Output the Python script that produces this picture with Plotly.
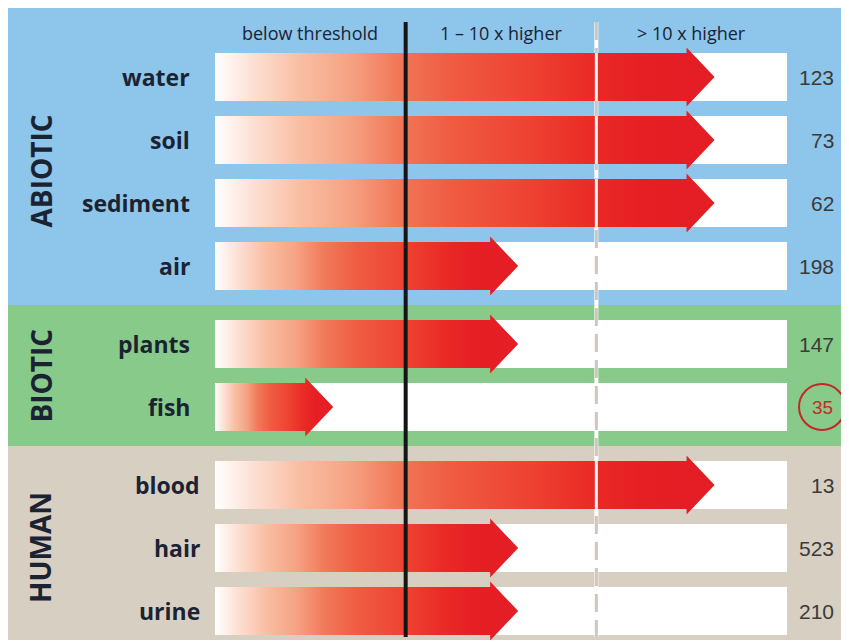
import plotly.graph_objects as go

# ---------------- data ----------------
groups = ["ABIOTIC", "BIOTIC", "HUMAN"]
rows = ["water", "soil", "sediment", "air", "plants", "fish", "blood", "hair", "urine"]
row_group = ["ABIOTIC", "ABIOTIC", "ABIOTIC", "ABIOTIC", "BIOTIC", "BIOTIC", "HUMAN", "HUMAN", "HUMAN"]
# arrow tip on the exceedance scale: 0 = none, 1 = threshold, 2 = 10x threshold, 3 = end of scale
exceedance = [2.62, 2.62, 2.62, 1.59, 1.59, 0.62, 2.62, 1.59, 1.59]
counts = [123, 73, 62, 198, 147, 35, 13, 523, 210]
highlighted = ["fish"]
section_labels = ["below threshold", "1 – 10 x higher", "> 10 x higher"]

# ---------------- layout / style ----------------
W, H = 849, 642                    # page size
PAGE_OFF = 8                       # default html body margin
PX_X0, PX_SEC = 215.0, 190.67      # page pixel of scale 0, pixels per section
PX_Y0, PX_ROW = 77.0, 63.0         # page pixel of first row centre, pixels per row
GROUP_GAP = 15.0 / PX_ROW
HALF_BAR = 24.0 / PX_ROW
HALF_HEAD = 29.5 / PX_ROW
HEAD_LEN = 28.0 / PX_SEC

band_colors = {"ABIOTIC": "#8ec5ea", "BIOTIC": "#88ca89", "HUMAN": "#d8cfc3"}
label_shift = {"ABIOTIC": 0, "BIOTIC": 0, "HUMAN": 10}
TEXT = "#1b2333"
FONT = "Open Sans"

arrow_scale = [
    [0.0, "#ffffff"], [0.07, "#fde2d7"], [0.17, "#f9bea2"], [0.27, "#f5a283"],
    [0.36, "#f17a5a"], [0.47, "#ef5c42"], [0.63, "#ee4232"], [0.75, "#ea2b26"],
    [0.85, "#e61f24"], [1.0, "#e31e24"],
]

def px_to_x(px):
    return (px - PX_X0) / PX_SEC

def px_to_y(py):
    return (py - PX_Y0) / PX_ROW

pos = [i + groups.index(g) * GROUP_GAP for i, g in enumerate(row_group)]

fig = go.Figure()
shapes = []
annotations = []

# background bands per group
for gi, g in enumerate(groups):
    gpos = [p for p, rg in zip(pos, row_group) if rg == g]
    top = gpos[0] - (72.0 / PX_ROW if gi == 0 else 0.5 + GROUP_GAP / 2)
    bottom = gpos[-1] + (29.0 / PX_ROW if gi == len(groups) - 1 else 0.5 + GROUP_GAP / 2)
    shapes.append(dict(type="rect", layer="below", xref="x", yref="y",
                       x0=px_to_x(7), x1=px_to_x(W + 5), y0=top, y1=bottom,
                       fillcolor=band_colors[g], line_width=0))
    annotations.append(dict(x=px_to_x(40), y=(gpos[0] + gpos[-1]) / 2, text=g,
                            textangle=-90, showarrow=False, xanchor="center", yanchor="middle",
                            font=dict(family=FONT, size=28, color=TEXT, weight="bold")))

# white bars
for p in pos:
    shapes.append(dict(type="rect", layer="below", x0=0, x1=3, y0=p - HALF_BAR, y1=p + HALF_BAR,
                       fillcolor="#ffffff", line_width=0))

y_top = px_to_y(22)
y_bot = pos[-1] + HALF_BAR + 2.0 / PX_ROW
# 10x line (white with grey dashes)
shapes.append(dict(type="line", layer="below", x0=2, x1=2, y0=y_top, y1=y_bot,
                   line=dict(color="#ffffff", width=4)))
shapes.append(dict(type="line", layer="below", x0=2, x1=2, y0=y_top, y1=y_bot,
                   line=dict(color="#cfc6bd", width=3, dash="18px,8px")))

# arrows
for r, p, v in zip(rows, pos, exceedance):
    b = v - HEAD_LEN
    xs = [0, b, b, v, b, b, 0, 0]
    ys = [p - HALF_BAR, p - HALF_BAR, p - HALF_HEAD, p, p + HALF_HEAD, p + HALF_BAR, p + HALF_BAR, p - HALF_BAR]
    fig.add_trace(go.Scatter(
        x=xs, y=ys, mode="lines", fill="toself",
        line=dict(width=0, color="rgba(0,0,0,0)"),
        fillgradient=dict(type="horizontal", colorscale=arrow_scale),
        hoverinfo="skip", showlegend=False, name=r))
    if v > 2:
        shapes.append(dict(type="line", layer="above", x0=2, x1=2,
                           y0=p - HALF_BAR, y1=p + HALF_BAR,
                           line=dict(color="#fbf4f2", width=3)))

# threshold line
shapes.append(dict(type="line", layer="above", x0=1, x1=1, y0=y_top, y1=y_bot,
                   line=dict(color="#151515", width=4)))

# section headers
for i, s in enumerate(section_labels):
    annotations.append(dict(x=i + 0.5, y=px_to_y(33), text=s, showarrow=False,
                            xanchor="center", yanchor="middle",
                            font=dict(family=FONT, size=18, color=TEXT)))

# row labels and counts
for r, g, p, c in zip(rows, row_group, pos, counts):
    annotations.append(dict(x=px_to_x(192), y=p, text=r, showarrow=False,
                            xanchor="right", yanchor="middle", xshift=label_shift[g],
                            font=dict(family=FONT, size=23, color=TEXT, weight="bold")))
    if r in highlighted:
        cx = px_to_x(822)
        annotations.append(dict(x=cx, y=p, text=str(c), showarrow=False,
                                xanchor="center", yanchor="middle",
                                font=dict(family="Liberation Sans", size=19, color="#c8282a")))
        shapes.append(dict(type="circle", layer="above", xref="x", yref="y",
                           xsizemode="pixel", ysizemode="pixel", xanchor=cx, yanchor=p,
                           x0=-23, x1=23, y0=-23, y1=23,
                           line=dict(color="#c0282a", width=2), fillcolor="rgba(0,0,0,0)"))
    else:
        annotations.append(dict(x=px_to_x(836), y=p, text=str(c), showarrow=False,
                                xanchor="right", yanchor="middle",
                                font=dict(family="Liberation Sans", size=21, color="#3a3a3a")))

fig.update_layout(
    width=W - PAGE_OFF, height=H - PAGE_OFF, autosize=False,
    margin=dict(l=0, r=0, t=0, b=0),
    paper_bgcolor="#ffffff", plot_bgcolor="#ffffff",
    shapes=shapes, annotations=annotations, showlegend=False,
    xaxis=dict(range=[px_to_x(PAGE_OFF), px_to_x(W)], visible=False, fixedrange=True),
    yaxis=dict(range=[px_to_y(H), px_to_y(PAGE_OFF)], visible=False, fixedrange=True),
)

fig.write_html("out.html")
